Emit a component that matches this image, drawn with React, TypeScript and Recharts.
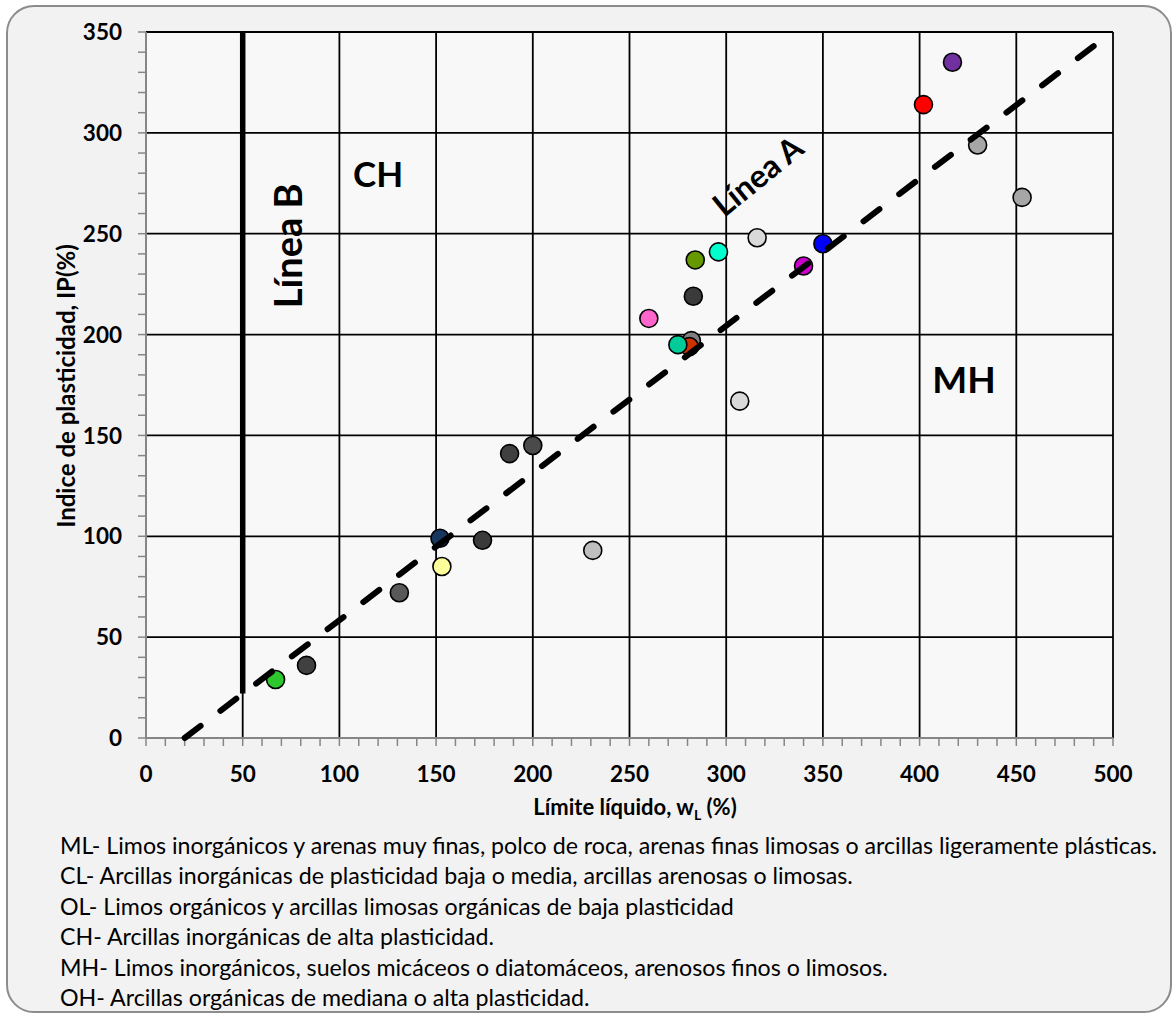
import React from 'react';
import { ScatterChart, Scatter, XAxis, YAxis, CartesianGrid } from 'recharts';

// muestras: límite líquido (wL) e índice de plasticidad (IP)
const limiteLiquido = [67, 83, 131, 152, 153, 174, 188, 200, 231, 260, 282, 281, 275, 283, 284, 296, 316, 307, 340, 350, 402, 417, 430, 453];
const indicePlasticidad = [29, 36, 72, 99, 85, 98, 141, 145, 93, 208, 197, 194, 195, 219, 237, 241, 248, 167, 234, 245, 314, 335, 294, 268];
const colores = [
  '#2dc82d', '#404040', '#595959', '#17375e', '#ffff99', '#3a3a3a', '#404040', '#4a4a4a',
  '#bfbfbf', '#ff66cc', '#7f7f7f', '#cc3300', '#00cc99', '#3a3a3a', '#669900', '#00ffcc',
  '#d9d9d9', '#d9d9d9', '#cc00cc', '#0000ff', '#ff0000', '#7030a0', '#a6a6a6', '#a6a6a6',
];

// Línea A: IP = 0.73 (wL - 20); Línea B: wL = 50
const lineaAx = [20, 490];
const lineaAy = [0, 343];
const lineaBx = [50, 50];
const lineaBy = [22, 350];

const etiquetas = ['Línea B', 'CH', 'Línea A', 'MH'];
const etiquetaX = [73, 120, 316, 423];
const etiquetaY = [244, 280, 279, 178];

const ticksMayoresX = [0, 50, 100, 150, 200, 250, 300, 350, 400, 450, 500];
const ticksMayoresY = [0, 50, 100, 150, 200, 250, 300, 350];
const ticksMenoresX = Array.from({ length: 51 }, (_, i) => i * 10);
const ticksMenoresY = Array.from({ length: 36 }, (_, i) => i * 10);

const leyenda = [
  'ML- Limos inorgánicos y arenas muy finas, polco de roca, arenas finas limosas o arcillas ligeramente plásticas.',
  'CL- Arcillas inorgánicas de plasticidad baja o media, arcillas arenosas o limosas.',
  'OL- Limos orgánicos y arcillas limosas orgánicas de baja plasticidad',
  'CH- Arcillas inorgánicas de alta plasticidad.',
  'MH- Limos inorgánicos, suelos micáceos o diatomáceos, arenosos finos o limosos.',
  'OH- Arcillas orgánicas de mediana o alta plasticidad.',
];

const muestras = limiteLiquido.map((x, i) => ({ x, y: indicePlasticidad[i], color: colores[i] }));
const lineaA = lineaAx.map((x, i) => ({ x, y: lineaAy[i] }));
const lineaB = lineaBx.map((x, i) => ({ x, y: lineaBy[i] }));
const textos = etiquetas.map((t, i) => ({ x: etiquetaX[i], y: etiquetaY[i], t }));

const FONT = 'Lato, "Open Sans", sans-serif';
const rotaciones: Record<string, number> = { 'Línea B': -90, 'Línea A': -39 };
const tamanos: Record<string, number> = { 'Línea B': 38, CH: 35, 'Línea A': 32, MH: 37 };

const TickX = (props: any) => {
  const { x, y, payload } = props;
  if (payload.value % 50 !== 0) return null;
  return (
    <text x={x} y={y} dy="0.71em" textAnchor="middle" fontFamily={FONT} fontWeight="bold" fontSize={22.5} fill="#000">
      {payload.value}
    </text>
  );
};

const TickY = (props: any) => {
  const { x, y, payload } = props;
  if (payload.value % 50 !== 0) return null;
  return (
    <text x={x} y={y} dy="0.36em" textAnchor="end" fontFamily={FONT} fontWeight="bold" fontSize={22.5} fill="#000">
      {payload.value}
    </text>
  );
};

const Punto = (props: any) => {
  const { cx, cy, payload } = props;
  return <circle cx={cx} cy={cy} r={9} fill={payload.color} stroke="#000" strokeWidth={1.6} />;
};

const Etiqueta = (props: any) => {
  const { cx, cy, payload } = props;
  const rot = rotaciones[payload.t] || 0;
  return (
    <text
      x={cx}
      y={cy}
      textAnchor="middle"
      dominantBaseline="central"
      transform={`rotate(${rot} ${cx} ${cy})`}
      fontFamily={FONT}
      fontWeight="bold"
      fontSize={tamanos[payload.t]}
      fill="#000"
    >
      {payload.t}
    </text>
  );
};

const Nada = () => <g />;

export default function App() {
  return (
    <div style={{ position: 'absolute', left: 0, top: 0, width: 1175, height: 1020, fontFamily: FONT }}>
      <div
        style={{
          position: 'absolute', left: 6, top: 5, width: 1166, height: 1008,
          border: '2px solid #8c8c8c', borderRadius: 28, background: '#f2f2f2', boxSizing: 'border-box',
        }}
      />
      <div style={{ position: 'absolute', left: 0, top: 0 }}>
        <ScatterChart width={1175} height={1020} margin={{ top: 32, right: 62, left: 46, bottom: 222 }}>
          <CartesianGrid
            fill="#f8f8f8"
            fillOpacity={1}
            stroke="#000"
            strokeWidth={1.8}
            horizontalValues={ticksMayoresY}
            verticalValues={ticksMayoresX}
          />
          <XAxis
            type="number"
            dataKey="x"
            domain={[0, 500]}
            ticks={ticksMenoresX}
            interval={0}
            height={60}
            tickSize={8}
            tickMargin={20}
            tick={TickX}
            axisLine={{ stroke: '#868686', strokeWidth: 2 }}
            tickLine={{ stroke: '#868686', strokeWidth: 1.5 }}
          />
          <YAxis
            type="number"
            dataKey="y"
            domain={[0, 350]}
            ticks={ticksMenoresY}
            interval={0}
            width={100}
            tickSize={8}
            tickMargin={16}
            tick={TickY}
            axisLine={{ stroke: '#868686', strokeWidth: 2 }}
            tickLine={{ stroke: '#868686', strokeWidth: 1.5 }}
          />
          <Scatter
            data={lineaB}
            isAnimationActive={false}
            shape={Nada}
            line={{ stroke: '#000', strokeWidth: 5.5 }}
          />
          <Scatter data={muestras} isAnimationActive={false} shape={Punto} />
          <Scatter
            data={lineaA}
            isAnimationActive={false}
            shape={Nada}
            line={{ stroke: '#000', strokeWidth: 6, strokeDasharray: '20 24.9', strokeLinecap: 'round' }}
          />
          <Scatter data={textos} isAnimationActive={false} shape={Etiqueta} />
        </ScatterChart>
      </div>
      <div
        style={{
          position: 'absolute', left: 65, top: 386, transform: 'translate(-50%, -50%) rotate(-90deg)',
          whiteSpace: 'nowrap', fontWeight: 'bold', fontSize: 24,
        }}
      >
        Indice de plasticidad, IP(%)
      </div>
      <div
        style={{
          position: 'absolute', left: 635, top: 808, transform: 'translate(-50%, -50%)',
          whiteSpace: 'nowrap', fontWeight: 'bold', fontSize: 22,
        }}
      >
        Límite líquido, w<sub style={{ fontSize: 14 }}>L</sub> (%)
      </div>
      <div style={{ position: 'absolute', left: 60, top: 830, fontSize: 23.2, lineHeight: '30.4px', color: '#000' }}>
        {leyenda.map((l, i) => (
          <div key={i} style={{ whiteSpace: 'nowrap' }}>{l}</div>
        ))}
      </div>
    </div>
  );
}
